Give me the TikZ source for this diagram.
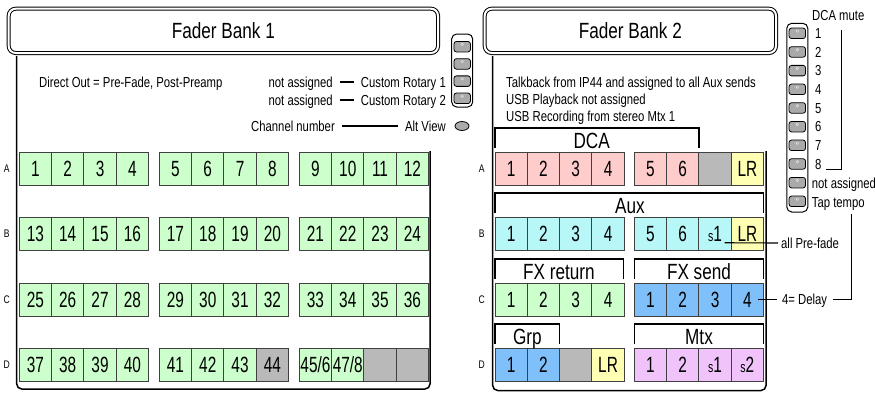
\documentclass[tikz,border=0pt]{standalone}
\usepackage{fontspec}
\setmainfont[FakeStretch=0.78]{Liberation Sans}
\newfontfamily\cellfont[FakeStretch=0.7]{Liberation Sans}
\usepackage{tikz}
\usetikzlibrary{shapes.geometric}

\definecolor{chgreen}{RGB}{204,255,204}
\definecolor{dcapink}{RGB}{255,204,204}
\definecolor{offgray}{RGB}{185,185,185}
\definecolor{lryellow}{RGB}{255,255,180}
\definecolor{auxcyan}{RGB}{183,247,247}
\definecolor{fxblue}{RGB}{128,192,250}
\definecolor{mtxviolet}{RGB}{240,195,250}
\definecolor{btngray}{RGB}{170,170,170}
\newcommand{\smalltag}{\fontsize{15}{15}\selectfont}

\begin{document}
\begin{tikzpicture}[x=1pt,y=-1pt,
  lbl/.style={font=\fontsize{14.5}{17}\selectfont,inner sep=0pt,text height=10.4pt,text depth=0pt},
  rowlbl/.style={font=\fontsize{11}{13}\selectfont,inner sep=0pt,text height=7.9pt,text depth=0pt},
  head/.style={font=\fontsize{22}{24}\selectfont,inner sep=0pt,text height=15.8pt,text depth=0pt},
  bank/.style={draw,double,double distance=2pt,line width=1pt,rounded corners=7pt,inner sep=0pt,
    minimum height=44.3pt,font=\fontsize{22}{24}\selectfont},
  cell/.style={draw=black!75,line width=0.9pt,minimum width=32.3pt,minimum height=33.5pt,inner sep=0pt,
    font=\cellfont\fontsize{22}{24}\selectfont},
  btn/.style={draw,fill=btngray,line width=0.8pt,rounded corners=2.5pt,minimum width=16.5pt,minimum height=10.5pt,
    inner sep=0pt,path picture={\fill[white] ([yshift=-3pt]path picture bounding box.north) circle (1.5pt);
      \fill ([yshift=-3pt]path picture bounding box.north) circle (0.9pt);}},
  strip/.style={draw,line width=1pt,rounded corners=5pt,inner sep=0pt,minimum width=21pt},
  frame/.style={line width=1.5pt,rounded corners=5pt},
  bracket/.style={line width=1.3pt},
  wire/.style={line width=1.1pt}]

  \useasboundingbox (0,0) rectangle (875,394);

  % fader bank titles and panel frames
  \node[bank,minimum width=429.3pt] (bank1) at (223.35,30.85) {Fader Bank 1};
  \node[bank,minimum width=291.3pt] (bank2) at (630.35,30.85) {Fader Bank 2};
  \draw[frame] (16.7,56) -- (16.7,389) -- (430,389) -- (430,151);
  \draw[frame] (492.7,56) -- (492.7,390.5) -- (766,390.5) -- (766,151);

  % left panel notes
  \node[lbl,anchor=west] (dirout) at (39,82) {Direct Out = Pre-Fade, Post-Preamp};
  \node[lbl,anchor=east] (na1) at (333,82) {not assigned};
  \node[lbl,anchor=east] (cr1) at (446,82) {Custom Rotary 1};
  \node[lbl,anchor=east] (na2) at (333,100) {not assigned};
  \node[lbl,anchor=east] (cr2) at (446,100) {Custom Rotary 2};
  \node[lbl,anchor=east] (chnum) at (335,126) {Channel number};
  \node[lbl,anchor=east] (altlbl) at (446,126) {Alt View};
  \node[ellipse,draw,fill=btngray,line width=0.8pt,minimum width=14pt,minimum height=9pt,inner sep=0pt] (altview) at (462,126) {};

  \node[strip,minimum height=73pt] (rotstrip) at (462.2,70.5) {};
  \foreach \i in {1,...,4}
    \node[btn] (rb\i) at (462.2,{46.7+(\i-1)*17.2}) {};

  % right panel notes
  \node[lbl,anchor=west] (talk) at (506,82) {Talkback from IP44 and assigned to all Aux sends};
  \node[lbl,anchor=west] (usbplay) at (506,99.3) {USB Playback not assigned};
  \node[lbl,anchor=west] (usbrec) at (506,116.7) {USB Recording from stereo Mtx 1};

  \node[strip,minimum height=188.7pt] (dcastrip) at (797.3,117.65) {};
  \foreach \i in {1,...,10}
    \node[btn] (db\i) at (797.3,{33.3+(\i-1)*18.67}) {};
  \node[lbl,anchor=west] (dcamute) at (812,15) {DCA mute};
  \foreach \i in {1,...,8}
    \node[lbl,anchor=west] (m\i) at (815,{33.3+(\i-1)*18.67}) {\i};
  \node[lbl,anchor=west] (mna) at (811.7,183.3) {not assigned};
  \node[lbl,anchor=west] (taptempo) at (811.7,202) {Tap tempo};

  % row letters
  \foreach \r/\ty in {A/152,B/217,C/283,D/348} {
    \node[rowlbl] (lrow\r) at (6.7,\ty+16.75) {\r};
    \node[rowlbl] (rrow\r) at (481.7,\ty+16.75) {\r};
  }

  % fader bank 1 channels
  \foreach \r/\ty [count=\ri from 0] in {A/152,B/217,C/283}
    \foreach \k in {1,...,12} {
      \pgfmathtruncatemacro\n{\ri*12+\k}
      \pgfmathsetmacro\cx{19.3+int((\k-1)/4)*140+(mod(\k-1,4)+0.5)*32.3}
      \node[cell,fill=chgreen] (l\r\k) at (\cx,\ty+16.75) {\n};
    }
  \foreach \k/\t/\c in {1/37/chgreen,2/38/chgreen,3/39/chgreen,4/40/chgreen,
      5/41/chgreen,6/42/chgreen,7/43/chgreen,8/44/offgray,
      9/{45/6}/chgreen,10/{47/8}/chgreen,11//offgray,12//offgray} {
    \pgfmathsetmacro\cx{19.3+int((\k-1)/4)*140+(mod(\k-1,4)+0.5)*32.3}
    \node[cell,fill=\c] (lD\k) at (\cx,364.75) {\t};
  }

  % fader bank 2 cells
  \foreach \k/\t/\c in {1/1/dcapink,2/2/dcapink,3/3/dcapink,4/4/dcapink,
      5/5/dcapink,6/6/dcapink,7//offgray,8/LR/lryellow} {
    \pgfmathsetmacro\cx{495+int((\k-1)/4)*139.3+(mod(\k-1,4)+0.5)*32.3}
    \node[cell,fill=\c] (rA\k) at (\cx,168.75) {\t};
  }
  \foreach \k/\t/\c in {1/1/auxcyan,2/2/auxcyan,3/3/auxcyan,4/4/auxcyan,
      5/5/auxcyan,6/6/auxcyan,7/{{\smalltag s}1}/auxcyan,8/LR/lryellow} {
    \pgfmathsetmacro\cx{495+int((\k-1)/4)*139.3+(mod(\k-1,4)+0.5)*32.3}
    \node[cell,fill=\c] (rB\k) at (\cx,233.75) {\t};
  }
  \foreach \k/\t/\c in {1/1/chgreen,2/2/chgreen,3/3/chgreen,4/4/chgreen,
      5/1/fxblue,6/2/fxblue,7/3/fxblue,8/4/fxblue} {
    \pgfmathsetmacro\cx{495+int((\k-1)/4)*139.3+(mod(\k-1,4)+0.5)*32.3}
    \node[cell,fill=\c] (rC\k) at (\cx,299.75) {\t};
  }
  \foreach \k/\t/\c in {1/1/fxblue,2/2/fxblue,3//offgray,4/LR/lryellow,
      5/1/mtxviolet,6/2/mtxviolet,7/{{\smalltag s}1}/mtxviolet,8/{{\smalltag s}2}/mtxviolet} {
    \pgfmathsetmacro\cx{495+int((\k-1)/4)*139.3+(mod(\k-1,4)+0.5)*32.3}
    \node[cell,fill=\c] (rD\k) at (\cx,364.75) {\t};
  }

  % group brackets
  \foreach \nm/\a/\b/\ty/\tx/\t in {dca/495/699/152/591.7/DCA, aux/495/763.5/217/630/Aux,
      fxr/495/623.5/283/559/FX return, fxs/634.5/763.5/283/699/FX send,
      grp/495/559.5/348/527.3/Grp, mtx/634.5/763.5/348/699/Mtx} {
    \draw[bracket] (\a,\ty-4) -- (\a,\ty-24) -- (\b,\ty-24) -- (\b,\ty-4);
    \node[head] (hd\nm) at (\tx,\ty-11.5) {\t};
  }

  % side notes
  \node[lbl,anchor=west] (prefade) at (781,243) {all Pre-fade};
  \node[lbl,anchor=west] (delay) at (782,299.75) {4= Delay};

  \foreach \from/\to in {na1/cr1,na2/cr2,chnum/altlbl}
    \draw[wire,shorten <=7pt,shorten >=7pt] (\from) -- (\to);
  \draw[wire] ([xshift=3pt,yshift=-10pt]dcamute.south) |- ([xshift=4pt]m8.south east);
  \draw[wire] ([xshift=13pt,yshift=-7pt]taptempo.south) |- ([xshift=6pt]delay.east);
  \draw[wire] ([xshift=10.5pt]rC8.center) -- ([xshift=-5pt]delay.west);
  \draw[wire] ([xshift=9.5pt,yshift=-9pt]rB7.center) -- ([xshift=-3pt]prefade.west);

\end{tikzpicture}
\end{document}
